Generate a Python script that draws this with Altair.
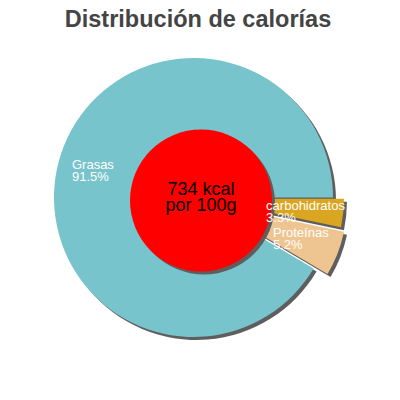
import math
import altair as alt
import pandas as pd

# ---- data ----
title_text = "Distribución de calorías"
categories = ["carbohidratos", "Proteínas", "Grasas"]
percentages = [3.3, 5.2, 91.5]
slice_colors = ["#DAA520", "#EEC591", "#78C4CC"]
center_lines = ["734 kcal", "por 100g"]

# ---- style ----
CX, CY, R = 185.5, 189.5, 139.5          # pie centre / radius (chart px)
RED_X, RED_Y, RED_R = 193, 192.5, 71      # centre disc
SHADOW = "#5e5e5e"
SH = 3
explode = {"carbohidratos": 11, "Proteínas": 15, "Grasas": 0}
label_r = {"carbohidratos": 73, "Proteínas": 85.3, "Grasas": 126}
label_dy = {"carbohidratos": 5, "Proteínas": 8.6, "Grasas": 4.8}
FONT = "Liberation Sans"

df = pd.DataFrame({"cat": categories, "pct": percentages, "order": list(range(len(categories)))})

theta_scale = alt.Scale(domain=[0, 100], range=[math.pi / 2, math.pi / 2 + 2 * math.pi])

base = (
    alt.Chart(df)
    .transform_window(cum="sum(pct)", sort=[alt.SortField("order")])
    .transform_calculate(
        t0="datum.cum - datum.pct",
        mid="datum.cum - datum.pct / 2",
        label="datum.cat + '\\n' + format(datum.pct, '.1f') + '%'",
    )
)

# mid angles (for explosion direction), from the data
mids = {}
acc = 0
for c, p in zip(categories, percentages):
    mids[c] = math.pi / 2 + (acc + p / 2) / 100 * 2 * math.pi
    acc += p

shadow_layers, slice_layers, label_layers = [], [], []
for c, col in zip(categories, slice_colors):
    e = explode[c]
    ox = CX + e * math.sin(mids[c])
    oy = CY - e * math.cos(mids[c])
    sub = base.transform_filter(alt.datum.cat == c)
    enc = dict(
        theta=alt.Theta("t0:Q", scale=theta_scale),
        theta2=alt.Theta2("cum:Q"),
    )
    shadow_layers.append(
        sub.mark_arc(radius=R, color=SHADOW).encode(
            x=alt.value(ox + SH), y=alt.value(oy + SH), **enc
        )
    )
    slice_layers.append(
        sub.mark_arc(radius=R, color=col).encode(
            x=alt.value(ox), y=alt.value(oy), **enc
        )
    )
    label_layers.append(
        sub.mark_text(
            radius=label_r[c], dy=label_dy[c], align="left", baseline="alphabetic",
            color="white", fontSize=13, lineHeight=11.7, font=FONT, lineBreak="\n",
        ).encode(
            theta=alt.Theta("mid:Q", scale=theta_scale),
            text="label:N",
            x=alt.value(CX), y=alt.value(CY),
        )
    )

one = alt.Chart(pd.DataFrame({"k": [0]}))
red_shadow = one.mark_arc(radius=RED_R, theta=0, theta2=2 * math.pi, color=SHADOW).encode(
    x=alt.value(RED_X + SH), y=alt.value(RED_Y + SH)
)
red = one.mark_arc(radius=RED_R, theta=0, theta2=2 * math.pi, color="#FF0000").encode(
    x=alt.value(RED_X), y=alt.value(RED_Y)
)
center_text = one.mark_text(
    align="center", baseline="alphabetic", fontSize=18, lineHeight=16, font=FONT, color="black"
).encode(text=alt.value(center_lines), x=alt.value(RED_X), y=alt.value(187))

chart = alt.layer(
    *shadow_layers, *slice_layers, red_shadow, red, center_text, *label_layers
).properties(
    width=384,
    height=384,
    padding=0,
    autosize=alt.AutoSizeParams(type="none"),
    title=alt.TitleParams(
        title_text, anchor="middle", frame="group", offset=-23, dx=-2,
        fontSize=23.5, font=FONT, fontWeight="bold", color="#444444",
    ),
).configure_view(stroke=None)

chart.save("out.html", embed_options={"renderer": "svg", "actions": False})
